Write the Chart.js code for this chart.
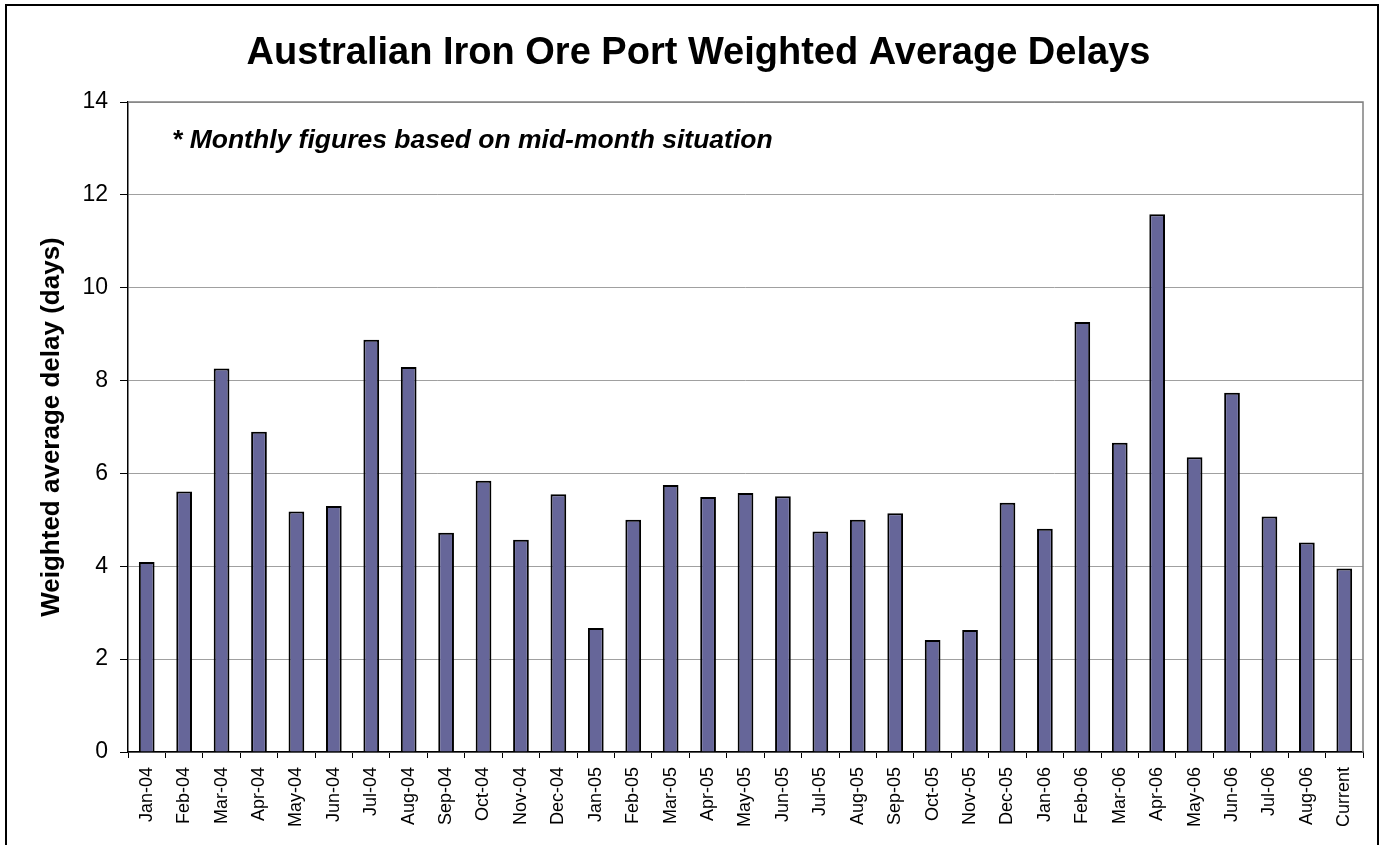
<!DOCTYPE html>
<html>
<head>
<meta charset="utf-8">
<title>Australian Iron Ore Port Weighted Average Delays</title>
<script src="https://cdn.jsdelivr.net/npm/chart.js@4/dist/chart.umd.min.js"></script>
<style>
    html, body { margin: 0; padding: 0; background: #fff; }
    #wrap { position: relative; width: 1380px; height: 845px; }
</style>
</head>
<body>
<div id="wrap"><canvas id="delayChart" width="1380" height="845"></canvas></div>
<script>
// Monthly delay figures (days)
const months = ['Jan-04', 'Feb-04', 'Mar-04', 'Apr-04', 'May-04', 'Jun-04', 'Jul-04', 'Aug-04', 'Sep-04',
    'Oct-04', 'Nov-04', 'Dec-04', 'Jan-05', 'Feb-05', 'Mar-05', 'Apr-05', 'May-05', 'Jun-05', 'Jul-05',
    'Aug-05', 'Sep-05', 'Oct-05', 'Nov-05', 'Dec-05', 'Jan-06', 'Feb-06', 'Mar-06', 'Apr-06', 'May-06',
    'Jun-06', 'Jul-06', 'Aug-06', 'Current'];
const delays = [4.09, 5.61, 8.26, 6.90, 5.18, 5.30, 8.88, 8.29, 4.72,
    5.84, 4.57, 5.55, 2.67, 5.00, 5.75, 5.49, 5.58, 5.51, 4.75,
    5.00, 5.14, 2.41, 2.63, 5.37, 4.81, 9.26, 6.66, 11.58, 6.35,
    7.74, 5.07, 4.51, 3.95];
const yTicks = [0, 2, 4, 6, 8, 10, 12, 14];

const chartTitle = 'Australian Iron Ore Port Weighted Average Delays';
const yTitle = 'Weighted average delay (days)';
const note = '* Monthly figures based on mid-month situation';

const FONT = '"Liberation Sans", Arial, sans-serif';

// frame round the whole picture, title, plot border and the italic note
const decorPlugin = {
    id: 'decor',
    afterDraw(chart) {
        const ctx = chart.ctx;
        const a = chart.chartArea;
        ctx.save();
        // outer frame
        ctx.strokeStyle = '#000';
        ctx.lineWidth = 2;
        ctx.beginPath();
        ctx.moveTo(6, 860);
        ctx.lineTo(6, 5);
        ctx.lineTo(1378, 5);
        ctx.lineTo(1378, 860);
        ctx.stroke();
        // title (centred on the whole picture, not the plot)
        ctx.fillStyle = '#000';
        ctx.font = 'bold 38px ' + FONT;
        ctx.textAlign = 'center';
        ctx.textBaseline = 'alphabetic';
        ctx.fillText(chartTitle, 698.5, 64);
        // plot area top + right edge
        ctx.strokeStyle = '#808080';
        ctx.lineWidth = 1.5;
        ctx.beginPath();
        ctx.moveTo(a.left, a.top);
        ctx.lineTo(a.right, a.top);
        ctx.lineTo(a.right, a.bottom);
        ctx.stroke();
        // note
        ctx.font = 'italic bold 26.5px ' + FONT;
        ctx.textAlign = 'left';
        ctx.fillText(note, a.left + 44, a.top + 46);
        ctx.restore();
    }
};

new Chart(document.getElementById('delayChart'), {
    type: 'bar',
    data: {
        labels: months,
        datasets: [{
            label: 'Weighted average delay',
            data: delays,
            backgroundColor: '#666699',
            borderColor: '#000',
            borderWidth: 2,
            categoryPercentage: 1,
            barPercentage: 0.42
        }]
    },
    options: {
        responsive: false,
        animation: false,
        layout: { padding: { left: 0, top: 102, right: 17, bottom: 0 } },
        plugins: {
            legend: { display: false },
            tooltip: { enabled: false },
            title: { display: false }
        },
        scales: {
            x: {
                grid: {
                    offset: true,
                    drawOnChartArea: false,
                    drawTicks: true,
                    tickLength: 6,
                    tickColor: '#000'
                },
                border: { color: '#000', width: 1.5 },
                ticks: {
                    color: '#000',
                    font: { family: FONT, size: 18 },
                    maxRotation: 90,
                    minRotation: 90,
                    autoSkip: false,
                    padding: 9
                },
                afterFit(scale) { scale.height = 93; }
            },
            y: {
                min: 0,
                max: 14,
                afterBuildTicks(scale) { scale.ticks = yTicks.map(v => ({ value: v })); },
                grid: {
                    color: '#a0a0a0',
                    lineWidth: 1,
                    tickLength: 8,
                    tickColor: '#000'
                },
                border: { color: '#000', width: 1.5 },
                ticks: {
                    color: '#000',
                    font: { family: FONT, size: 23 },
                    padding: 12
                },
                title: {
                    display: true,
                    text: yTitle,
                    color: '#000',
                    font: { family: FONT, size: 26, weight: 'bold', lineHeight: 1.2 },
                    padding: { top: 36, bottom: 0 }
                },
                afterFit(scale) { scale.width = 128; }
            }
        }
    },
    plugins: [decorPlugin]
});
</script>
</body>
</html>
